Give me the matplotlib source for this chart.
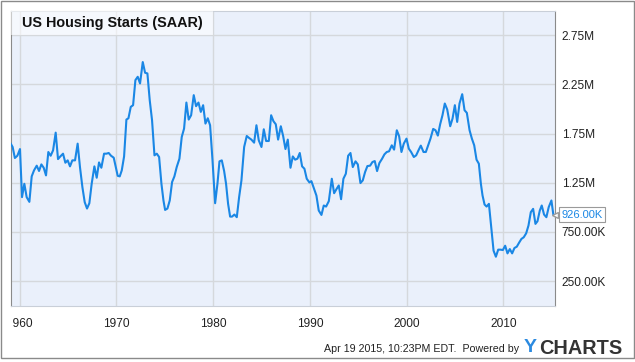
import matplotlib
matplotlib.use("Agg")
import matplotlib.pyplot as plt
from matplotlib.patches import Rectangle
from matplotlib.transforms import Bbox, TransformedBbox, blended_transform_factory

plt.rcParams['font.family'] = ['Liberation Sans', 'DejaVu Sans']

# housing starts, millions of units
years = [
    1959.07, 1959.27, 1959.50, 1959.76, 1960.03, 1960.24, 1960.48, 1960.72, 1961.00, 1961.24,
    1961.48, 1961.76, 1962.00, 1962.24, 1962.48, 1962.72, 1962.96, 1963.20, 1963.45, 1963.72,
    1963.96, 1964.20, 1964.48, 1964.72, 1964.96, 1965.20, 1965.44, 1965.72, 1965.99, 1966.23,
    1966.48, 1966.72, 1966.96, 1967.20, 1967.44, 1967.72, 1967.96, 1968.20, 1968.44, 1968.72,
    1968.96, 1969.20, 1969.44, 1969.72, 1970.13, 1970.34, 1970.55, 1970.79, 1971.03, 1971.24,
    1971.48, 1971.72, 1971.96, 1972.20, 1972.44, 1972.72, 1972.96, 1973.20, 1973.44, 1973.68,
    1973.93, 1974.17, 1974.41, 1974.65, 1974.86, 1975.03, 1975.27, 1975.51, 1975.75, 1975.99,
    1976.23, 1976.51, 1976.75, 1976.99, 1977.23, 1977.47, 1977.72, 1977.99, 1978.23, 1978.48,
    1978.72, 1978.96, 1979.20, 1979.44, 1979.68, 1979.93, 1980.20, 1980.44, 1980.65, 1980.89,
    1981.13, 1981.33, 1981.54, 1981.75, 1981.95, 1982.19, 1982.44, 1982.68, 1982.92, 1983.20,
    1983.47, 1983.71, 1983.95, 1984.23, 1984.47, 1984.71, 1984.99, 1985.23, 1985.47, 1985.75,
    1985.99, 1986.23, 1986.47, 1986.71, 1986.99, 1987.23, 1987.47, 1987.71, 1987.99, 1988.23,
    1988.47, 1988.71, 1988.95, 1989.19, 1989.43, 1989.67, 1989.95, 1990.15, 1990.43, 1990.67,
    1990.91, 1991.19, 1991.43, 1991.67, 1991.95, 1992.26, 1992.50, 1992.74, 1992.98, 1993.22,
    1993.46, 1993.71, 1993.95, 1994.19, 1994.43, 1994.71, 1994.95, 1995.22, 1995.46, 1995.70,
    1995.94, 1996.22, 1996.46, 1996.70, 1996.94, 1997.18, 1997.46, 1997.70, 1997.94, 1998.18,
    1998.46, 1998.70, 1998.98, 1999.22, 1999.46, 1999.70, 1999.98, 2000.22, 2000.46, 2000.74,
    2000.98, 2001.22, 2001.46, 2001.74, 2001.98, 2002.22, 2002.46, 2002.74, 2002.98, 2003.22,
    2003.46, 2003.70, 2003.94, 2004.19, 2004.50, 2004.74, 2004.98, 2005.22, 2005.46, 2005.74,
    2005.98, 2006.22, 2006.50, 2006.74, 2006.98, 2007.22, 2007.46, 2007.67, 2007.84, 2008.05,
    2008.26, 2008.50, 2008.74, 2008.98, 2009.22, 2009.46, 2009.70, 2009.94, 2010.18, 2010.42,
    2010.66, 2010.90, 2011.14, 2011.38, 2011.62, 2011.86, 2012.10, 2012.35, 2012.59, 2012.83,
    2013.07, 2013.31, 2013.52, 2013.76, 2013.96, 2014.20, 2014.44, 2014.68, 2014.96, 2015.16,
]
starts = [
    1.648, 1.614, 1.502, 1.525, 1.593, 1.104, 1.240, 1.104, 1.056, 1.315,
    1.376, 1.424, 1.370, 1.437, 1.403, 1.325, 1.563, 1.525, 1.580, 1.760,
    1.491, 1.518, 1.546, 1.454, 1.478, 1.417, 1.478, 1.478, 1.648, 1.410,
    1.206, 1.053, 0.988, 1.042, 1.240, 1.417, 1.301, 1.457, 1.403, 1.546,
    1.546, 1.553, 1.525, 1.505, 1.321, 1.315, 1.376, 1.518, 1.893, 1.906,
    2.022, 2.039, 2.294, 2.328, 2.260, 2.478, 2.369, 2.362, 2.090, 1.886,
    1.529, 1.546, 1.512, 1.240, 1.070, 0.974, 0.988, 1.070, 1.257, 1.315,
    1.410, 1.495, 1.716, 1.801, 2.066, 1.893, 1.937, 2.141, 2.029, 2.066,
    1.971, 2.039, 1.852, 1.906, 1.835, 1.478, 1.042, 1.240, 1.468, 1.478,
    1.370, 1.240, 1.036, 0.906, 0.906, 0.927, 0.900, 1.104, 1.274, 1.614,
    1.726, 1.706, 1.689, 1.658, 1.835, 1.682, 1.614, 1.794, 1.675, 1.675,
    1.937, 1.876, 1.845, 1.689, 1.825, 1.726, 1.593, 1.689, 1.403, 1.518,
    1.485, 1.495, 1.553, 1.417, 1.393, 1.291, 1.253, 1.267, 1.189, 1.120,
    0.968, 0.923, 1.019, 1.008, 1.063, 1.291, 1.144, 1.185, 1.223, 1.083,
    1.291, 1.342, 1.525, 1.553, 1.410, 1.468, 1.437, 1.247, 1.274, 1.359,
    1.420, 1.424, 1.461, 1.471, 1.369, 1.451, 1.495, 1.539, 1.563, 1.570,
    1.631, 1.587, 1.784, 1.723, 1.563, 1.648, 1.699, 1.597, 1.563, 1.512,
    1.529, 1.580, 1.628, 1.563, 1.563, 1.631, 1.699, 1.798, 1.784, 1.730,
    1.845, 1.937, 2.056, 1.995, 1.825, 1.903, 2.039, 1.869, 2.056, 2.151,
    1.988, 1.961, 1.784, 1.699, 1.631, 1.485, 1.444, 1.240, 1.121, 1.029,
    1.008, 1.036, 0.798, 0.560, 0.498, 0.570, 0.570, 0.566, 0.610, 0.532,
    0.576, 0.532, 0.587, 0.600, 0.641, 0.679, 0.696, 0.736, 0.815, 0.951,
    0.985, 0.832, 0.859, 0.968, 1.019, 0.927, 0.900, 1.002, 1.070, 0.926,
]

x_ticks = [1960, 1970, 1980, 1990, 2000, 2010]
y_ticks = [0.25, 0.75, 1.25, 1.75, 2.25, 2.75]
y_labels = ["250.00K", "750.00K", "1.25M", "1.75M", "2.25M", "2.75M"]
title = "US Housing Starts (SAAR)"
last_label = "926.00K"

W, H = 635, 362
fig = plt.figure(figsize=(W / 100, H / 100), dpi=100)
L, R, T, B = 10.7, 554.7, 10.7, 305.7
ax = fig.add_axes([L / W, 1 - B / H, (R - L) / W, (B - T) / H])
ax.set_facecolor("#eaf0fb")

ax.plot(years, starts, color="#1a87e5", lw=1.5, solid_joinstyle="round", zorder=3)

ax.set_xlim(1959.07, 2015.3)
ax.set_ylim(0, 3.0)
ax.set_xticks(x_ticks)
ax.set_yticks(y_ticks)
ax.set_yticklabels(y_labels)
ax.yaxis.tick_right()
ax.grid(True, color="#d5d8dc", lw=1)
ax.set_axisbelow(True)
ax.tick_params(length=0, labelsize=8.6, labelcolor="#222222")
ax.tick_params(axis="y", pad=5)
ax.tick_params(axis="x", pad=9)

for s in ["left", "right"]:
    ax.spines[s].set_color("#8a8a8a")
for s in ["top", "bottom"]:
    ax.spines[s].set_color("#c9cfd8")

# the first year label is cut at the left, only "960" shows
clip = TransformedBbox(Bbox([[13.2 / W, 0], [1, 1]]), fig.transFigure)
for lbl in ax.get_xticklabels():
    lbl.set_clip_box(clip)
    lbl.set_clip_on(True)

# title box
ax.add_patch(Rectangle((0, 2.75 / 3.0), (213 - L) / (R - L), 1 - 2.75 / 3.0,
                       transform=ax.transAxes, facecolor="white", alpha=0.55,
                       edgecolor="none", zorder=4))
ax.text(0.02, 0.958, title, transform=ax.transAxes, fontsize=10.4,
        fontweight="bold", va="center", ha="left", color="#111111", zorder=5)

# last value flag
tr = blended_transform_factory(ax.transAxes, ax.transData)
ax.text(1.012, starts[-1], last_label, transform=tr, fontsize=8, color="#1a87e5",
        va="center", ha="left", zorder=6,
        bbox=dict(boxstyle="square,pad=0.2", facecolor="white", edgecolor="#9a9a9a", lw=0.8))
ax.plot([1.0], [starts[-1]], marker="<", ms=5, mfc="white", mec="#9a9a9a",
        transform=tr, clip_on=False, zorder=7)

# footer
fig.text(519 / W, 1 - 349 / H, "Apr 19 2015, 10:23PM EDT.  Powered by", fontsize=7.7,
         ha="right", va="center", color="#222222")
fig.text(524 / W, 1 - 348 / H, "Y", fontsize=14, fontweight="bold", color="#2b8ae0",
         ha="left", va="center")
fig.text(539 / W, 1 - 348 / H, "CHARTS", fontsize=14.3, fontweight="bold", color="#333333",
         ha="left", va="center")

# outer frame
fig.add_artist(Rectangle((0.5 / W, 1 - 358 / H), 633.5 / W, 357.5 / H,
                         transform=fig.transFigure, fill=False, edgecolor="#8a8a8a", lw=1))

fig.savefig("out.png", dpi=100)
